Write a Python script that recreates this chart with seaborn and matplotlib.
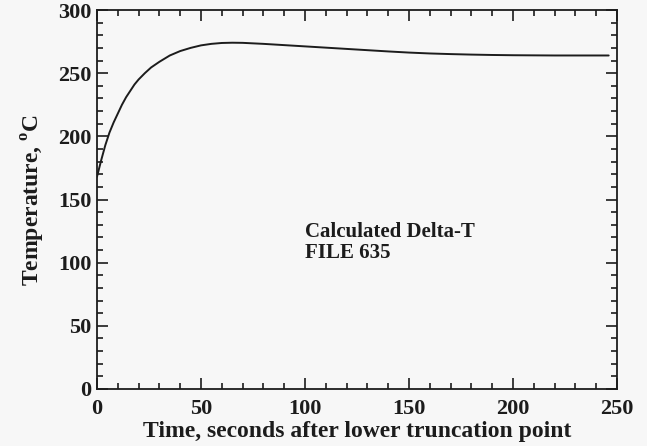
import matplotlib
matplotlib.use("Agg")
import matplotlib.pyplot as plt
import seaborn as sns
import pandas as pd
from matplotlib.ticker import MultipleLocator

time_s = [0, 2, 4, 6, 8, 10, 12, 14, 16, 18, 20, 23, 26, 30, 35, 40, 45, 50, 55, 60,
          65, 70, 80, 90, 100, 110, 120, 130, 140, 150, 160, 170, 180, 190, 200, 210,
          220, 230, 240, 246]
temperature_c = [168, 181, 193, 203, 211, 218, 225, 231, 236, 241, 245, 250, 254.5, 259,
                 264, 267.5, 270, 272, 273.2, 273.9, 274.1, 274, 273.2, 272.2, 271.2, 270.2,
                 269.2, 268.2, 267.2, 266.3, 265.6, 265.1, 264.7, 264.4, 264.2, 264.1, 264,
                 264, 264, 264]
x_ticks = [0, 50, 100, 150, 200, 250]
y_ticks = [0, 50, 100, 150, 200, 250, 300]
annotation = "Calculated Delta-T\nFILE 635"
x_label = "Time, seconds after lower truncation point"
y_label = r"Temperature, $^{\mathbf{o}}$C"

sns.set_theme(style="ticks")
plt.rcParams["font.family"] = ["Liberation Serif", "DejaVu Serif"]
plt.rcParams["font.weight"] = "bold"
plt.rcParams["mathtext.fontset"] = "custom"
plt.rcParams["mathtext.rm"] = "Liberation Serif"
plt.rcParams["mathtext.bf"] = "Liberation Serif:bold"

ink = "#1c1c1c"
bg = "#f7f7f7"
fig = plt.figure(figsize=(6.47, 4.46), dpi=100, facecolor=bg)
ax = fig.add_axes([97/647, 57/446, 520/647, 379/446])
ax.set_facecolor(bg)

df = pd.DataFrame({"t": time_s, "T": temperature_c})
sns.lineplot(data=df, x="t", y="T", ax=ax, color=ink, linewidth=1.4)

ax.set_xlim(0, 250)
ax.set_ylim(0, 300)
ax.set_xticks(x_ticks)
ax.set_yticks(y_ticks)
ax.xaxis.set_minor_locator(MultipleLocator(10))
ax.yaxis.set_minor_locator(MultipleLocator(10))
ax.tick_params(which="both", direction="in", top=True, right=True, colors=ink, width=1.2)
ax.tick_params(which="major", length=8)
ax.tick_params(which="minor", length=4.5)
ax.tick_params(axis="x", which="major", labelsize=16, pad=7)
ax.tick_params(axis="y", which="major", labelsize=16, pad=4)
for lab in ax.get_xticklabels() + ax.get_yticklabels():
    lab.set_fontweight("bold")
for s in ax.spines.values():
    s.set_linewidth(1.3)
    s.set_color(ink)

ax.set_xlabel(x_label, fontsize=17, fontweight="bold", labelpad=2, color=ink)
ax.set_ylabel(y_label, fontsize=17, fontweight="bold", labelpad=8, color=ink)
ax.text(100, 116, annotation, fontsize=15, fontweight="bold", va="center", ha="left",
        linespacing=1.1, color=ink)

fig.savefig("out.png", dpi=100, facecolor=bg)
